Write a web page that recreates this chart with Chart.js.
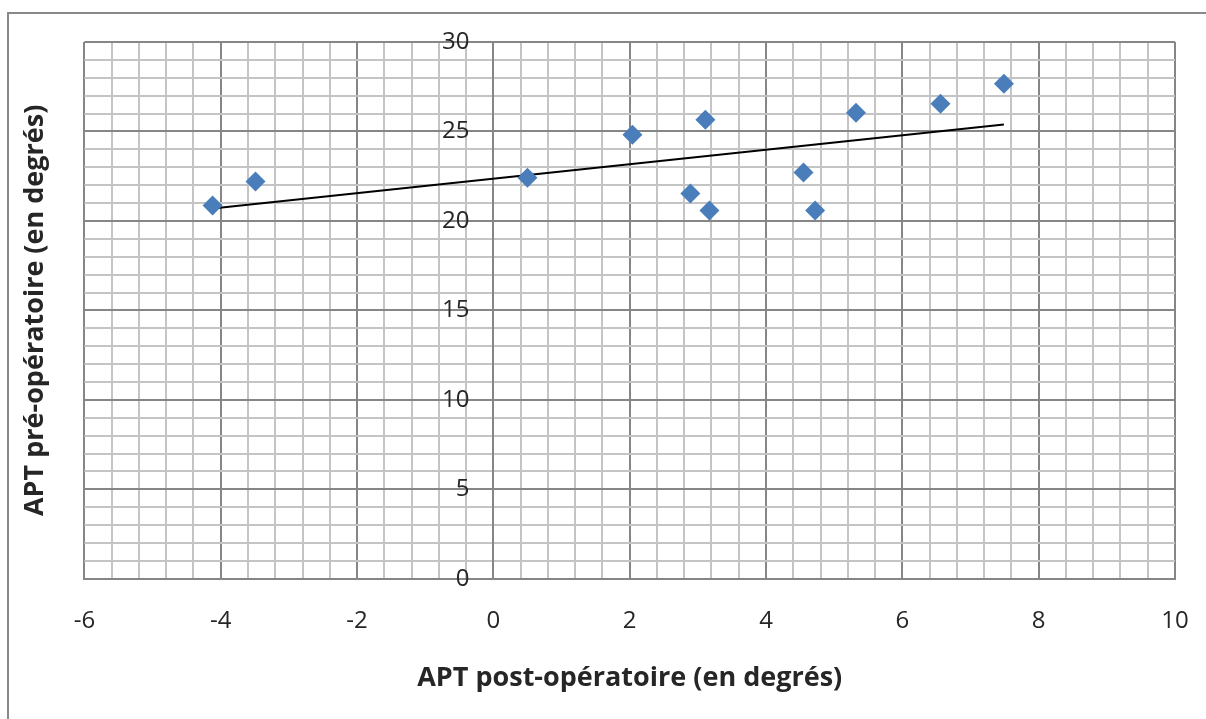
<!DOCTYPE html>
<html>
<head>
<meta charset="utf-8">
<script src="https://cdn.jsdelivr.net/npm/chart.js@4"></script>
<style>
  html, body { margin: 0; padding: 0; background: #fff; }
  #wrap { position: relative; width: 1206px; height: 719px; }
</style>
</head>
<body>
<div id="wrap"><canvas id="c" width="1206" height="719"></canvas></div>
<script>
// ---- data ----
const postOp = [-4.12, -3.49, 0.50, 2.04, 2.89, 3.11, 3.17, 4.55, 4.72, 5.32, 6.56, 7.49];
const preOp  = [20.86, 22.20, 22.42, 24.82, 21.53, 25.66, 20.58, 22.70, 20.58, 26.05, 26.55, 27.66];
const xTickLabels = [-6, -4, -2, 0, 2, 4, 6, 8, 10];
const yTickLabels = [0, 5, 10, 15, 20, 25, 30];
const xTitle = 'APT post-opératoire (en degrés)';
const yTitle = 'APT pré-opératoire (en degrés)';

// linear trend (least squares), as in the original spreadsheet trendline
const n = postOp.length;
const mx = postOp.reduce((a, b) => a + b, 0) / n;
const my = preOp.reduce((a, b) => a + b, 0) / n;
let sxy = 0, sxx = 0;
for (let i = 0; i < n; i++) { sxy += (postOp[i] - mx) * (preOp[i] - my); sxx += (postOp[i] - mx) ** 2; }
const slope = sxy / sxx, icpt = my - slope * mx;
const xMin = Math.min(...postOp), xMax = Math.max(...postOp);
const trend = [{ x: xMin, y: icpt + slope * xMin }, { x: xMax, y: icpt + slope * xMax }];

const points = postOp.map((x, i) => ({ x, y: preOp[i] }));

const isIn = (v, arr) => arr.some(t => Math.abs(t - v) < 1e-6);
const FONT = "'Open Sans', 'DejaVu Sans', sans-serif";

const frame = {
  id: 'frame',
  beforeDraw(chart) {
    const ctx = chart.ctx;
    ctx.save();
    ctx.fillStyle = '#fff';
    ctx.fillRect(0, 0, chart.width, chart.height);
    ctx.strokeStyle = '#898989';
    ctx.lineWidth = 2;
    ctx.beginPath();
    ctx.moveTo(8, chart.height + 5);
    ctx.lineTo(8, 13);
    ctx.lineTo(chart.width + 5, 13);
    ctx.stroke();
    ctx.restore();
  }
};

new Chart(document.getElementById('c'), {
  type: 'scatter',
  data: {
    datasets: [
      {
        label: 'APT',
        data: points,
        pointStyle: 'rectRot',
        pointRadius: 10,
        pointHoverRadius: 10,
        backgroundColor: '#4a7ebb',
        borderColor: '#4a7ebb',
        borderWidth: 0,
        order: 1
      },
      {
        label: 'Tendance',
        type: 'line',
        data: trend,
        borderColor: '#000',
        borderWidth: 2,
        pointRadius: 0,
        fill: false,
        order: 2
      }
    ]
  },
  options: {
    responsive: false,
    animation: false,
    layout: { padding: { left: 0, top: 42, right: 31, bottom: 24 } },
    plugins: { legend: { display: false }, tooltip: { enabled: false } },
    scales: {
      x: {
        type: 'linear',
        min: -6, max: 10,
        border: { display: true, color: '#868686', width: 2 },
        grid: {
          drawTicks: true,
          tickLength: 28,
          tickColor: 'rgba(0,0,0,0)',
          lineWidth: 2,
          color: c => isIn(c.tick.value, xTickLabels) ? '#868686' : '#c4c4c4'
        },
        ticks: {
          stepSize: 0.4,
          autoSkip: false,
          maxRotation: 0,
          padding: 0,
          color: '#262626',
          font: { family: FONT, size: 24 },
          callback: v => isIn(v, xTickLabels) ? String(Math.round(v)) : ''
        },
        title: {
          display: true,
          text: xTitle,
          color: '#262626',
          padding: { top: 27, bottom: 0 },
          font: { family: FONT, size: 27, weight: 'bold' }
        }
      },
      y: {
        type: 'linear',
        min: 0, max: 30,
        position: { x: 0 },
        border: { display: true, color: '#868686', width: 2 },
        grid: {
          drawTicks: false,
          lineWidth: 2,
          color: c => isIn(c.tick.value, yTickLabels) ? '#868686' : '#c4c4c4'
        },
        ticks: { stepSize: 1, autoSkip: false, display: false }
      },
      yLabels: {
        type: 'linear',
        min: 0, max: 30,
        position: { x: -0.35 },
        border: { display: false },
        grid: { display: false, drawTicks: false },
        ticks: {
          stepSize: 5,
          autoSkip: false,
          color: '#262626',
          font: { family: FONT, size: 24 },
          callback: v => isIn(v, yTickLabels) ? String(Math.round(v)) : ''
        }
      },
      yTitleAxis: {
        type: 'linear',
        position: 'left',
        display: true,
        grid: { display: false, drawTicks: false },
        border: { display: false },
        ticks: { display: false },
        title: {
          display: true,
          text: yTitle,
          color: '#262626',
          padding: { top: 19, bottom: 33 },
          font: { family: FONT, size: 27, weight: 'bold' }
        }
      }
    }
  },
  plugins: [frame]
});
</script>
</body>
</html>
